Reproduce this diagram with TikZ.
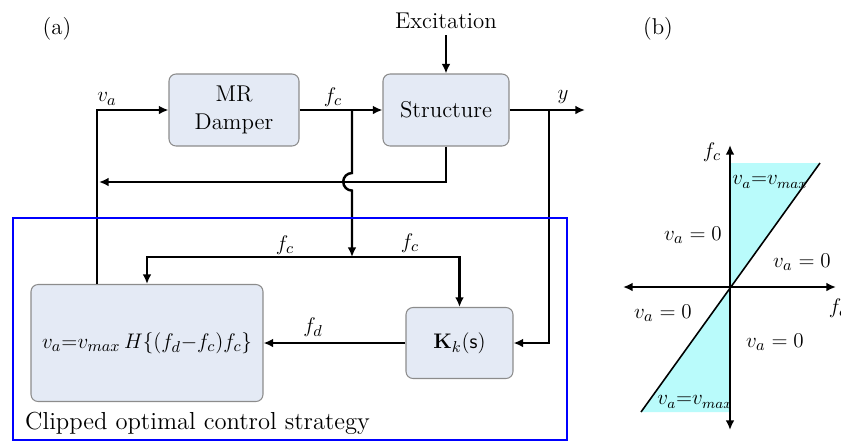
\documentclass[tikz,border=0pt]{standalone}
\usetikzlibrary{arrows.meta,positioning}
\definecolor{boxfill}{RGB}{228,234,245}
\definecolor{boxline}{RGB}{140,140,140}
\definecolor{zonefill}{RGB}{185,251,251}
\newcommand{\txtsize}{\fontsize{13}{16}\selectfont}
\newcommand{\smtxt}{\fontsize{12}{14}\selectfont}
\tikzset{
  block/.style={draw=boxline, fill=boxfill, rounded corners=4pt, line width=0.6pt, align=center, font=\txtsize, inner sep=0pt},
  sig/.style={line width=1.4pt, -{Latex[length=5.5pt,width=5pt]}},
  axis/.style={line width=1.1pt, {Latex[length=5.5pt,width=5pt]}-{Latex[length=5.5pt,width=5pt]}},
  zone/.style={draw=blue, line width=1.6pt},
}
\begin{document}
\begin{tikzpicture}[x=0.02cm,y=-0.02cm]
\useasboundingbox (0,0) rectangle (841,441);
%\draw[step=50,gray,very thin] (0,0) grid (841,441);

% (a) block diagram
\node[] (pa) at (57,29) {\txtsize (a)};
\node[] (exc) at (446,21) {\txtsize Excitation};
\node[block, minimum width=2.6cm, minimum height=1.44cm] (mr) at (234,110) {MR\\Damper};
\node[block, minimum width=2.52cm, minimum height=1.44cm] (st) at (446,110) {Structure};
\node[block, minimum width=4.64cm, minimum height=2.34cm] (law) at (147,343) {$v_a{=}v_{max}\,H\{(f_d{-}f_c)f_c\}$};
\node[block, minimum width=2.14cm, minimum height=1.42cm] (kk) at (459.5,343) {$\mathbf{K}_k(\mathsf{s})$};

\coordinate (cva) at (97,110);
\coordinate (jfc) at (352,110);
\coordinate (jy) at (549,110);
\coordinate (yend) at (585,110);
\coordinate (fbend) at (99,182);
\coordinate (jsplit) at (352,257);

\draw[sig] (exc.south) -- (st.north);
\draw[sig] (law.north -| cva) |- (mr.west);
\draw[sig] (mr.east) -- (st.west);
\draw[sig] (st.east) -- (yend);
\draw[sig] (st.south) |- (fbend);
\draw[sig] (jfc) -- ++(0,63) arc[start angle=90, end angle=270, radius=5pt] -- (jsplit);
\draw[sig] (jsplit) -| (law.north);
\draw[sig] (jsplit) -| (kk.north);
\draw[sig] (kk.west) -- (law.east);
\draw[sig] (jy) |- (kk.east);

\node[] (lva) at (107,99)  {\txtsize $v_a$};
\node[] (lfc) at (333,97)  {\txtsize $f_c$};
\node[] (ly)  at (563,97)  {\txtsize $y$};
\node[] (lfc1) at (285,245) {\txtsize $f_c$};
\node[] (lfc2) at (410,243) {\txtsize $f_c$};
\node[] (lfd) at (313,327) {\txtsize $f_d$};

\draw[zone] (13,218) rectangle (567,440);
\node[anchor=west] (cap) at (19,423) {\fontsize{14}{16}\selectfont Clipped optimal control strategy};

% (b) switching regions
\node[] (pb) at (658,29) {\txtsize (b)};
\coordinate (o) at (730,287);
\coordinate (xl) at (623,287);
\coordinate (xr) at (836,287);
\coordinate (yb) at (730,430);
\coordinate (yt) at (730,145);
\coordinate (dl) at (641,412);
\coordinate (du) at (820,163);
\fill[zonefill] (o) -- (730,163) -- (du) -- cycle;
\fill[zonefill] (o) -- (730,412) -- (dl) -- cycle;
\draw[line width=0.9pt] (dl) -- (du);
\draw[axis] (xl) -- (xr);
\draw[axis] (yb) -- (yt);

\node[] (lfy) at (712,152) {\txtsize $f_c$};
\node[] (lfx) at (838,308) {\txtsize $f_c$};
\node[] (r1) at (770,182) {\smtxt $v_a{=}v_{max}$};
\node[] (r2) at (695,402) {\smtxt $v_a{=}v_{max}$};
\node[] (r3) at (693,235) {\txtsize $v_a = 0$};
\node[] (r4) at (802,262) {\txtsize $v_a = 0$};
\node[] (r5) at (663,313) {\txtsize $v_a = 0$};
\node[] (r6) at (775,342) {\txtsize $v_a = 0$};

\end{tikzpicture}
\end{document}
